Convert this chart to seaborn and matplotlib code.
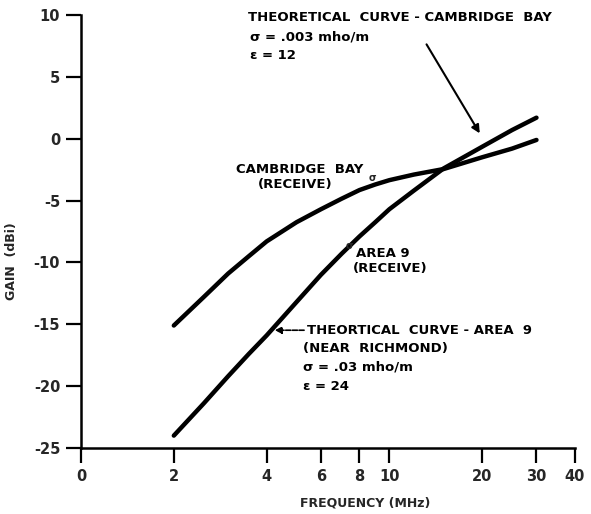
import pandas as pd
import matplotlib
matplotlib.use("Agg")
import matplotlib.pyplot as plt
import seaborn as sns

# --- data ---
freq_mhz = [2, 2.5, 3, 3.5, 4, 5, 6, 7, 8, 9, 10, 12, 15, 20, 25, 30]
cambridge_gain = [-15.1, -12.8, -10.9, -9.5, -8.3, -6.75, -5.7, -4.85, -4.15, -3.7,
                  -3.35, -2.9, -2.45, -1.5, -0.8, -0.1]
area9_gain = [-24.0, -21.4, -19.2, -17.4, -15.9, -13.2, -11.0, -9.3, -7.9, -6.75,
              -5.7, -4.2, -2.4, -0.65, 0.7, 1.7]

x_ticks = [1, 2, 4, 6, 8, 10, 20, 30, 40]
x_tick_labels = ["0", "2", "4", "6", "8", "10", "20", "30", "40"]
y_ticks = [10, 5, 0, -5, -10, -15, -20, -25]

df = pd.concat([
    pd.DataFrame({"freq": freq_mhz, "gain": cambridge_gain, "site": "Cambridge Bay"}),
    pd.DataFrame({"freq": freq_mhz, "gain": area9_gain, "site": "Area 9"}),
])

sns.set_style("ticks")
plt.rcParams["font.family"] = ["DejaVu Sans"]
plt.rcParams["font.weight"] = "bold"

fig = plt.figure(figsize=(5.91, 5.14), dpi=100)
ax = fig.add_axes([81 / 591, 66 / 514, 494 / 591, 433 / 514])

sns.lineplot(data=df, x="freq", y="gain", units="site", estimator=None,
             color="black", lw=3.2, ax=ax, solid_capstyle="round",
             solid_joinstyle="round")

ax.set_xscale("log")
ax.set_xlim(1, 40)
ax.set_ylim(-25, 10)
ax.set_xticks(x_ticks)
ax.set_xticklabels(x_tick_labels)
ax.xaxis.set_minor_locator(matplotlib.ticker.NullLocator())
ax.set_yticks(y_ticks)
ax.set_yticklabels([str(v) for v in y_ticks])
ax.tick_params(length=11, width=1.6, labelsize=10.5, pad=4, color="black")
for lbl in ax.get_xticklabels() + ax.get_yticklabels():
    lbl.set_fontweight("bold")
sns.despine(ax=ax)
for s in ("left", "bottom"):
    ax.spines[s].set_linewidth(1.8)
    ax.spines[s].set_color("black")

ax.set_xlabel("FREQUENCY (MHz)", fontsize=9, fontweight="bold")
ax.set_ylabel("GAIN  (dBi)", fontsize=9, fontweight="bold")
ax.xaxis.set_label_coords(0.575, -0.113)
ax.yaxis.set_label_coords(-0.1275, 0.432)

txt = dict(fontsize=9.5, fontweight="bold", va="center", ha="left", color="black")

# Cambridge Bay theoretical curve label
ax.text(3.48, 9.76, "THEORETICAL  CURVE - CAMBRIDGE  BAY", **txt)
ax.text(3.53, 8.23, "\u03c3 = .003 mho/m", **txt)
ax.text(3.53, 6.69, "\u03b5 = 12", **txt)
ax.annotate("", xy=(19.85, 0.24), xytext=(13.06, 7.82),
            arrowprops=dict(arrowstyle="-|>", color="black", lw=1.5,
                            mutation_scale=12))

# measured (receive) labels
ax.text(3.18, -2.5, "CAMBRIDGE  BAY", **txt)
ax.text(3.75, -3.71, "(RECEIVE)", **txt)
ax.text(8.79, -3.15, "\u03c3", fontsize=7, fontweight="bold", va="center", ha="center")
ax.text(7.8, -9.27, "AREA 9", **txt)
ax.text(7.62, -10.48, "(RECEIVE)", **txt)
ax.text(7.45, -8.71, "\u03c3", fontsize=7, fontweight="bold", va="center", ha="center")

# Area 9 theoretical curve label
ax.annotate("", xy=(4.16, -15.48), xytext=(5.4, -15.48),
            arrowprops=dict(arrowstyle="-|>", color="black", lw=1.2,
                            linestyle=(0, (3, 1)), mutation_scale=10))
ax.text(5.41, -15.48, "THEORTICAL  CURVE - AREA  9", **txt)
ax.text(5.25, -16.94, "(NEAR  RICHMOND)", **txt)
ax.text(5.25, -18.47, "\u03c3 = .03 mho/m", **txt)
ax.text(5.25, -20.0, "\u03b5 = 24", **txt)

fig.savefig("out.png", dpi=100)
